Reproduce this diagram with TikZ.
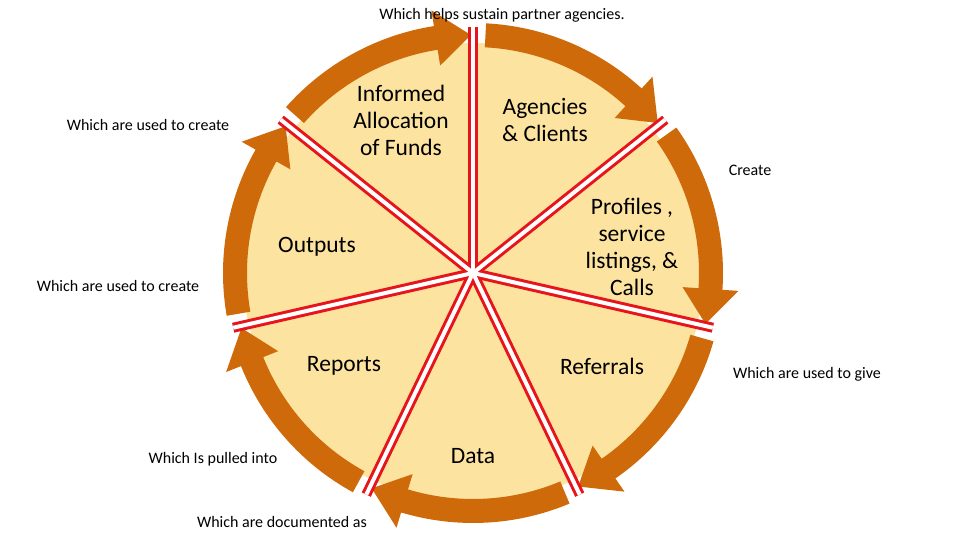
\documentclass[tikz,border=0pt]{standalone}
\usepackage{fontspec}
\setmainfont{Carlito}
\usetikzlibrary{calc}
\definecolor{pie}{HTML}{FCE3A0}
\definecolor{ring}{HTML}{CF6A0A}
\definecolor{divred}{HTML}{E8141B}
\begin{document}
\begin{tikzpicture}[x=1pt,y=1pt,
  big/.style={font=\fontsize{23.5}{27}\selectfont,align=center,inner sep=0},
  small/.style={font=\fontsize{16}{19}\selectfont,inner sep=0}]
\useasboundingbox (0,0) rectangle (960,540);
\coordinate (c) at (473,267);
\fill[pie] (c) circle (230);
\foreach \k in {0,...,6}{
  \pgfmathsetmacro{\atwo}{90-\k*360/7}
  \pgfmathsetmacro{\aone}{\atwo+360/7}
  \fill[ring] ($(c)+(\aone-3:250)$) arc[start angle=\aone-3,end angle=\atwo+9,radius=250]
    -- ($(c)+(\atwo+9:266)$) -- ($(c)+(\atwo+0.5:238)$) -- ($(c)+(\atwo+9:210)$)
    -- ($(c)+(\atwo+9:226)$) arc[start angle=\atwo+9,end angle=\aone-3,radius=226] -- cycle;
}
\foreach \k in {0,...,6}{
  \pgfmathsetmacro{\a}{90-\k*360/7}
  \coordinate (e\k) at ($(c)+(\a:246)$);
  \draw[divred,line width=10] (c) -- (e\k);
}
\foreach \k in {0,...,6}{
  \draw[white,line width=4] (c) -- (e\k);
}
\node[big] (n1) at (401,420) {Informed\\Allocation\\of Funds};
\node[big] (n2) at (545,420) {Agencies\\\& Clients};
\node[big] (n3) at (632,293) {Profiles ,\\service\\listings, \&\\Calls};
\node[big] (n4) at (317,293) {Outputs};
\node[big] (n5) at (344,174) {Reports};
\node[big] (n6) at (602,174) {Referrals};
\node[big] (n7) at (473,84) {Data};
\node[small] (t1) at (502,525) {Which helps sustain partner agencies.};
\node[small] (t2) at (148,415) {Which are used to create};
\node[small] (t3) at (750,370) {Create};
\node[small] (t4) at (118,254) {Which are used to create};
\node[small] (t5) at (807,166) {Which are used to give};
\node[small] (t6) at (213,81) {Which Is pulled into};
\node[small] (t7) at (282,18) {Which are documented as};
\end{tikzpicture}
\end{document}
